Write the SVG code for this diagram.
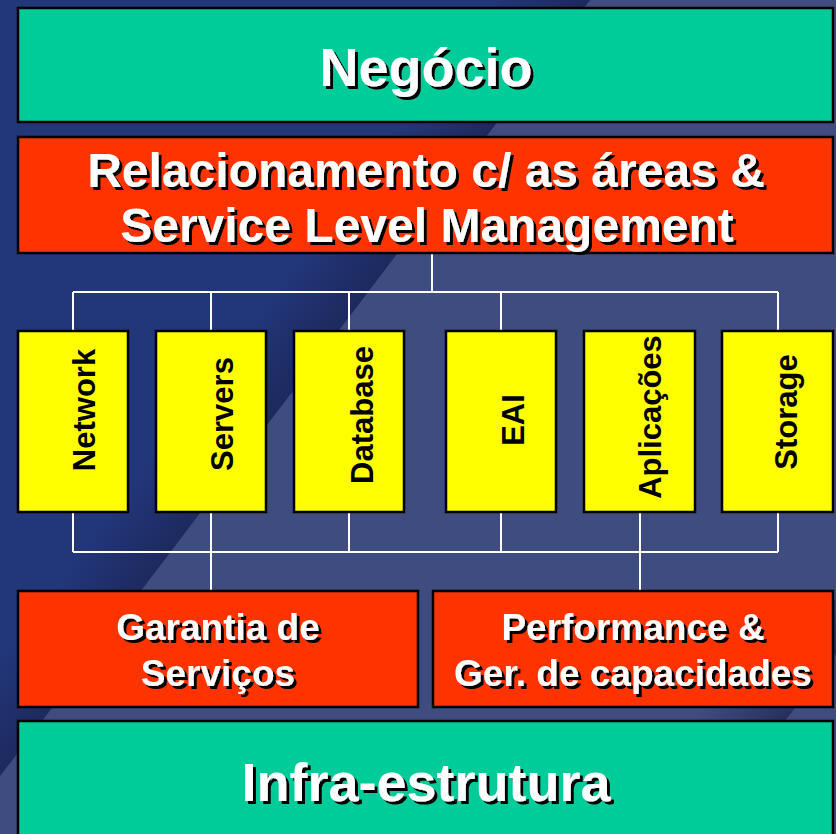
<svg xmlns="http://www.w3.org/2000/svg" width="836" height="834" viewBox="0 0 836 834">
  <defs>
    <linearGradient id="sh1" gradientUnits="userSpaceOnUse" x1="340" y1="205" x2="400" y2="250">
      <stop offset="0" stop-color="#1b2452" stop-opacity="0"/>
      <stop offset="1" stop-color="#1b2452" stop-opacity="0.7"/>
    </linearGradient>
    <linearGradient id="sh2" gradientUnits="userSpaceOnUse" x1="730" y1="670" x2="790" y2="715">
      <stop offset="0" stop-color="#1b2452" stop-opacity="0"/>
      <stop offset="1" stop-color="#1b2452" stop-opacity="0.7"/>
    </linearGradient>
    <filter id="ds" x="-10%" y="-30%" width="130%" height="160%">
      <feDropShadow dx="3" dy="3" stdDeviation="0" flood-color="#000" flood-opacity="1"/>
    </filter>
    <style>
      .box { stroke: #000; stroke-width: 2.5; }
      .teal { fill: #00cc99; }
      .red { fill: #ff3300; }
      .yel { fill: #ffff00; }
      .wt { font-family: "Liberation Sans", Arial, sans-serif; font-weight: bold; fill: #fff; text-anchor: middle; filter: url(#ds); }
      .bt { font-family: "Liberation Sans", Arial, sans-serif; font-weight: bold; fill: #000; text-anchor: middle; font-size: 31px; }
      .conn { stroke: #fff; stroke-width: 2; fill: none; }
    </style>
  </defs>

  <!-- background -->
  <rect x="0" y="0" width="836" height="834" fill="#22367a"/>
  <polygon points="590,0 836,0 836,834 -44,834" fill="#3f4c80"/>
  <polygon points="500,0 590,0 -44,834 -134,834" fill="url(#sh1)"/>
  <polygon points="877,600 699,834 609,834 787,600" fill="url(#sh2)"/>

  <!-- connectors -->
  <g id="connectors">
    <path class="conn" d="M432,253 V292 M73,292 H778 M73,292 V330 M211,292 V330 M349,292 V330 M501,292 V330 M778,292 V330"/>
    <path class="conn" d="M73,512 V552 M211,512 V590 M349,512 V552 M501,512 V552 M640,512 V590 M778,512 V552 M73,552 H778"/>
  </g>

  <g id="negocio">
    <rect class="box teal" x="18" y="8" width="815" height="114"/>
    <text class="wt" x="426" y="86" font-size="54">Negócio</text>
  </g>

  <g id="relacionamento">
    <rect class="box red" x="18" y="137" width="815" height="116"/>
    <text class="wt" x="426" y="187" font-size="48">Relacionamento c/ as áreas &amp;</text>
    <text class="wt" x="427" y="242" font-size="48">Service Level Management</text>
  </g>

  <g id="network">
    <rect class="box yel" x="18" y="331" width="110" height="181"/>
    <text class="bt" transform="translate(95,410) rotate(-90)">Network</text>
  </g>
  <g id="servers">
    <rect class="box yel" x="156" y="331" width="110" height="181"/>
    <text class="bt" transform="translate(233,414) rotate(-90)">Servers</text>
  </g>
  <g id="database">
    <rect class="box yel" x="294" y="331" width="110" height="181"/>
    <text class="bt" transform="translate(373,415) rotate(-90)">Database</text>
  </g>
  <g id="eai">
    <rect class="box yel" x="446" y="331" width="110" height="181"/>
    <text class="bt" transform="translate(524,420) rotate(-90)">EAI</text>
  </g>
  <g id="aplicacoes">
    <rect class="box yel" x="584" y="331" width="111" height="181"/>
    <text class="bt" transform="translate(661,417) rotate(-90)">Aplicações</text>
  </g>
  <g id="storage">
    <rect class="box yel" x="722" y="331" width="111" height="181"/>
    <text class="bt" transform="translate(797,412) rotate(-90)">Storage</text>
  </g>

  <g id="garantia">
    <rect class="box red" x="18" y="591" width="400" height="116"/>
    <text class="wt" x="218" y="640" font-size="37">Garantia de</text>
    <text class="wt" x="218" y="686" font-size="37">Serviços</text>
  </g>

  <g id="performance">
    <rect class="box red" x="433" y="591" width="400" height="116"/>
    <text class="wt" x="633" y="640" font-size="37">Performance &amp;</text>
    <text class="wt" x="633" y="686" font-size="37">Ger. de capacidades</text>
  </g>

  <g id="infra">
    <rect class="box teal" x="18" y="721" width="815" height="125"/>
    <text class="wt" x="426" y="801" font-size="54">Infra-estrutura</text>
  </g>
</svg>
